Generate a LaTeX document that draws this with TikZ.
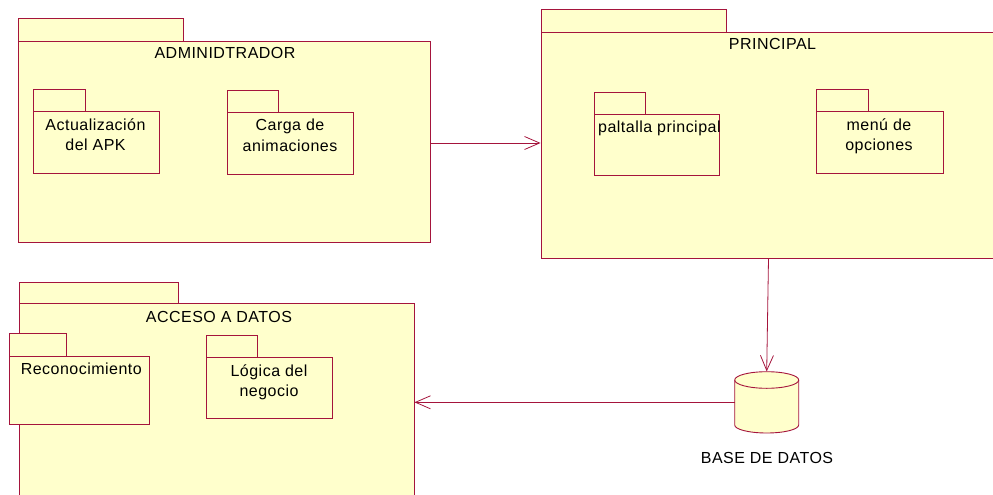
\documentclass[tikz,border=0pt]{standalone}
\usepackage{fontspec}
\setmainfont{Liberation Sans}[LetterSpace=3]
\usetikzlibrary{arrows.meta,fit}

\definecolor{pkgedge}{RGB}{165,20,60}
\definecolor{pkgfill}{RGB}{255,255,204}

\tikzset{
  pkgtab/.style={draw=pkgedge, fill=pkgfill, line width=0.9pt},
  pkgbody/.style={draw=pkgedge, fill=pkgfill, line width=0.9pt, inner sep=0pt},
  lbl/.style={font=\fontsize{16}{20.7}\selectfont, inner sep=0pt, anchor=base, text=black},
  dep/.style={draw=pkgedge, line width=0.8pt, -{Straight Barb[length=15pt,width=13pt]}},
}

% UML package: name, tab left, tab top, tab right, body top, body right, body bottom
\newcommand\umlpackage[7]{%
  \draw[pkgtab] (#2,#3) rectangle (#4,#5);
  \node[pkgbody, fit={(#2,#5) (#6,#7)}] (#1) {};
}

\begin{document}
\begin{tikzpicture}[x=1pt,y=-1pt]
\useasboundingbox (0,0) rectangle (993,495);

% outer packages
\umlpackage{adm}{18}{18}{183}{41}{430}{242}
\umlpackage{prin}{541}{9}{726}{32}{996}{258}
\umlpackage{acc}{19}{282}{178}{303}{414}{500}

% nested packages
\umlpackage{act}{33}{89}{85}{111}{159}{173}
\umlpackage{carga}{227}{90}{278}{112}{353}{174}
\umlpackage{pant}{594}{92}{645}{114}{719}{175}
\umlpackage{menu}{816}{89}{868}{111}{943}{173}
\umlpackage{reco}{9}{333}{66}{356}{149}{424}
\umlpackage{logi}{206}{335}{257}{357}{332}{418}

% package names (two-line names are placed by the baseline of their last line)
\node[lbl] (admT) at (225,59) {ADMINIDTRADOR};
\node[lbl] (prinT) at (772.5,50) {PRINCIPAL};
\node[lbl] (accT) at (219,322.7) {ACCESO A DATOS};
\node[lbl, align=center] (actT) at (95.5,150.7) {Actualización\\del APK};
\node[lbl, align=center] (cargaT) at (290,151.4) {Carga de\\animaciones};
\node[lbl, anchor=base west] (pantT) at (598,132) {paltalla principal};
\node[lbl, align=center] (menuT) at (879,150.7) {menú de\\opciones};
\node[lbl] (recoT) at (81.3,374.3) {Reconocimiento};
\node[lbl, align=center] (logiT) at (269,396.7) {Lógica del\\negocio};

% database
\node[minimum width=64pt, minimum height=61.3pt, inner sep=0pt] (db) at (766.7,402.3) {};
\filldraw[pkgtab] (734.7,380) -- (734.7,425)
  arc[start angle=180, end angle=360, x radius=32pt, y radius=8pt]
  -- (798.7,380)
  arc[start angle=0, end angle=180, x radius=32pt, y radius=8.3pt] -- cycle;
\draw[pkgtab, fill=none] (734.7,380)
  arc[start angle=180, end angle=360, x radius=32pt, y radius=8.3pt];
\node[lbl] (dbT) at (767,463) {BASE DE DATOS};

% dependencies
\coordinate (lk) at (0,143);
\draw[dep] (adm.east |- lk) -- (prin.west |- lk);
\draw[dep] (prin.south) -- (db.north);
\draw[dep] (db.west) -- (db.west -| acc.east);
\end{tikzpicture}
\end{document}
